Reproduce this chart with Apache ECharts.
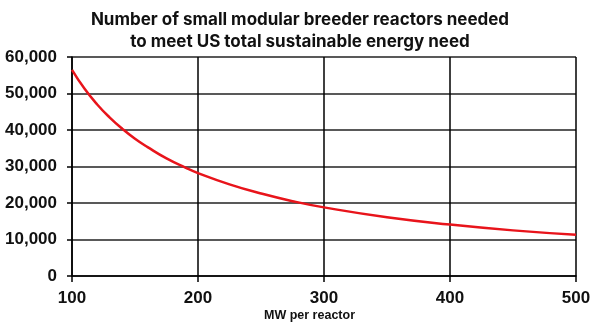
<!DOCTYPE html>
<html><head><meta charset="utf-8">
<script src="https://cdn.jsdelivr.net/npm/echarts@6/dist/echarts.min.js"></script>
<style>html,body{margin:0;padding:0;background:#fff}#c{width:600px;height:327px}</style>
</head><body><div id="c"></div>
<script>
const titleLines = ["Number of small modular breeder reactors needed", "to meet US total sustainable energy need"];
const xAxisTitle = "MW per reactor";
const mwPerReactor = [100, 110, 120, 130, 140, 150, 160, 175, 190, 200, 225, 250, 275, 300, 350, 400, 450, 500];
const reactorsNeeded = [56500, 51300, 47000, 43400, 40300, 37600, 35300, 32200, 29700, 28200, 25100, 22600, 20500, 18800, 16100, 14100, 12500, 11300];

const chart = echarts.init(document.getElementById('c'), null, {renderer: 'canvas'});
chart.setOption({
  animation: false,
  backgroundColor: '#fff',
  title: {
    text: titleLines.join('\n'),
    left: 'center', top: 4,
    textStyle: {fontFamily: 'Inter', fontWeight: 'bold', fontSize: 17, lineHeight: 22, color: '#111'}
  },
  grid: {left: 72, right: 24, top: 57, bottom: 51, containLabel: false},
  xAxis: {
    type: 'value', min: 100, max: 500, interval: 100,
    axisLine: {show: true, onZero: false, lineStyle: {color: '#000', width: 1.5}},
    axisTick: {show: true, length: 6, lineStyle: {color: '#000', width: 1.5}},
    splitLine: {show: true, lineStyle: {color: '#000', width: 1.5}},
    axisLabel: {color: '#111', fontFamily: 'Liberation Sans', fontWeight: 'bold', fontSize: 17, margin: 14,
      formatter: v => String(v)}
  },
  yAxis: {
    type: 'value', min: 0, max: 60000, interval: 10000,
    axisLine: {show: true, lineStyle: {color: '#000', width: 1.5}},
    axisTick: {show: true, length: 5, lineStyle: {color: '#000', width: 1.5}},
    splitLine: {show: true, lineStyle: {color: '#222', width: 1.5}},
    axisLabel: {color: '#111', fontFamily: 'Liberation Sans', fontWeight: 'bold', fontSize: 17, margin: 15,
      formatter: v => v.toLocaleString('en-US')}
  },
  graphic: [{
    type: 'text', left: 264, top: 309,
    style: {text: xAxisTitle, fill: '#111', font: 'bold 12.5px "Liberation Sans"'}
  }],
  series: [{
    type: 'line', data: mwPerReactor.map((x, i) => [x, reactorsNeeded[i]]),
    smooth: true, showSymbol: false,
    lineStyle: {color: '#e8141b', width: 2.5}
  }]
});
</script></body></html>
